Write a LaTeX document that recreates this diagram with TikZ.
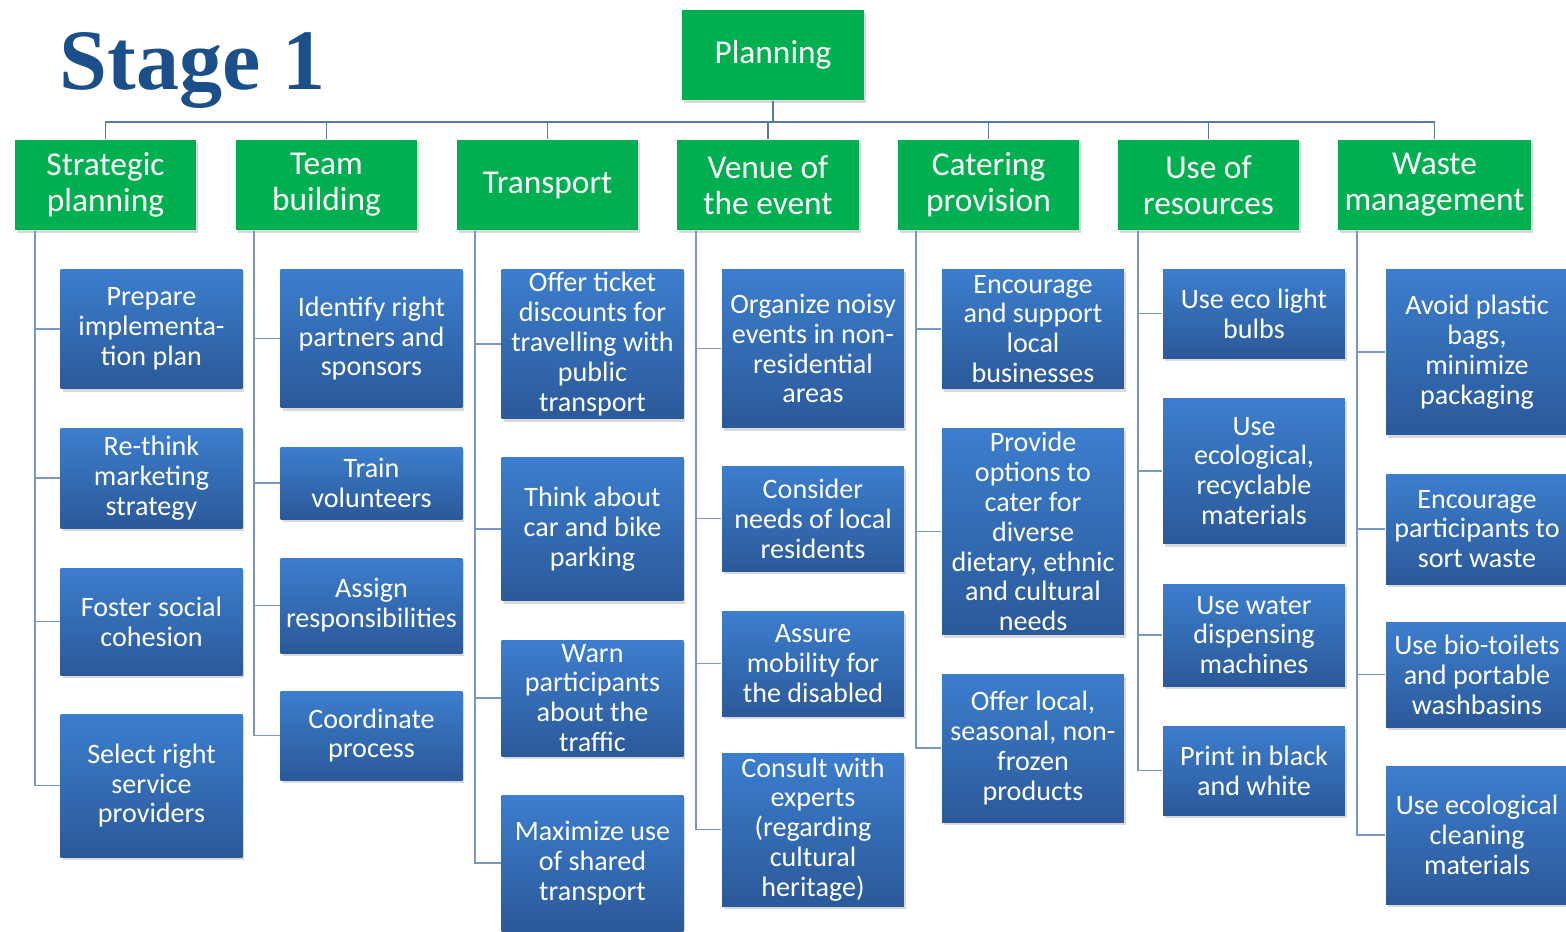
\documentclass[tikz,border=0pt]{standalone}
\usepackage{fontspec}
\setmainfont{Carlito}
\newfontfamily\titlefont{Liberation Serif}
\usetikzlibrary{shadows}
\definecolor{stagegreen}{RGB}{0,176,80}
\definecolor{boxtop}{RGB}{60,126,206}
\definecolor{boxbot}{RGB}{43,89,153}
\definecolor{linkblue}{RGB}{122,150,194}
\definecolor{busblue}{RGB}{90,120,168}
\definecolor{titleblue}{RGB}{27,79,138}

\begin{document}
\begin{tikzpicture}[x=0.02cm, y=-0.02cm, line width=1pt,
	head/.style={fill=stagegreen, text=white, align=center, minimum width=3.64cm, minimum height=1.8cm, inner sep=0pt,
		font=\fontsize{19}{20.5}\selectfont, drop shadow={opacity=0.3, shadow xshift=0.04cm, shadow yshift=-0.06cm}},
	leaf/.style={top color=boxtop, bottom color=boxbot, text=white, align=center, minimum width=3.64cm, inner sep=0pt,
		font=\fontsize{16}{17}\selectfont, drop shadow={opacity=0.3, shadow xshift=0.04cm, shadow yshift=-0.06cm}},
	link/.style={draw=linkblue},
	busline/.style={draw=busblue}]
		\useasboundingbox (0,0) rectangle (1566,931);
		\node[anchor=base west, text=titleblue, font=\titlefont\fontsize{49}{52}\selectfont\bfseries] (title) at (53,89) {Stage 1};
		% top level
		\node[head] (plan) at (773,55) {Planning};
		\node[head] (sp) at (105.5,185) {Strategic\\planning};
		\node[head] (tb) at (326.5,185) {Team\\building};
		\node[head] (tr) at (547.5,185) {Transport};
		\node[head] (ve) at (768,185) {Venue of\\the event};
		\node[head] (ca) at (988.5,185) {Catering\\provision};
		\node[head] (ur) at (1208.5,185) {Use of\\resources};
		\node[head, minimum width=3.86cm] (wm) at (1434.5,185) {Waste\\management};
		% strategic planning
		\node[leaf, minimum height=2.4cm] (s1) at (151.5,329) {Prepare\\implementa-\\tion plan};
		\node[leaf, minimum height=2cm] (s2) at (151.5,478) {Re-think\\marketing\\strategy};
		\node[leaf, minimum height=2.14cm] (s3) at (151.5,621.5) {Foster social\\cohesion};
		\node[leaf, minimum height=2.86cm] (s4) at (151.5,785.5) {Select right\\service\\providers};
		% team building
		\node[leaf, minimum height=2.78cm] (t1) at (371.5,338.5) {Identify right\\partners and\\sponsors};
		\node[leaf, minimum height=1.44cm] (t2) at (371.5,483) {Train\\volunteers};
		\node[leaf, minimum height=1.9cm] (t3) at (371.5,605.5) {Assign\\responsibilities};
		\node[leaf, minimum height=1.78cm] (t4) at (371.5,735.5) {Coordinate\\process};
		% transport
		\node[leaf, minimum height=3cm] (p1) at (592.5,344) {Offer ticket\\discounts for\\travelling with\\public\\transport};
		\node[leaf, minimum height=2.88cm] (p2) at (592.5,529) {Think about\\car and bike\\parking};
		\node[leaf, minimum height=2.32cm] (p3) at (592.5,698) {Warn\\participants\\about the\\traffic};
		\node[leaf, minimum height=2.72cm] (p4) at (592.5,863) {Maximize use\\of shared\\transport};
		% venue
		\node[leaf, minimum height=3.18cm] (v1) at (813,348.5) {Organize noisy\\events in non-\\residential\\areas};
		\node[leaf, minimum height=2.1cm] (v2) at (813,518.5) {Consider\\needs of local\\residents};
		\node[leaf, minimum height=2.1cm] (v3) at (813,663.5) {Assure\\mobility for\\the disabled};
		\node[leaf, minimum height=3.06cm] (v4) at (813,829.5) {Consult with\\experts\\(regarding\\cultural\\heritage)};
		% catering
		\node[leaf, minimum height=2.4cm] (c1) at (1033,329) {Encourage\\and support\\local\\businesses};
		\node[leaf, minimum height=4.14cm] (c2) at (1033,531.5) {Provide\\options to\\cater for\\diverse\\dietary, ethnic\\and cultural\\needs};
		\node[leaf, minimum height=2.96cm] (c3) at (1033,748) {Offer local,\\seasonal, non-\\frozen\\products};
		% resources
		\node[leaf, minimum height=1.78cm] (r1) at (1254,313.5) {Use eco light\\bulbs};
		\node[leaf, minimum height=2.92cm] (r2) at (1254,471) {Use\\ecological,\\recyclable\\materials};
		\node[leaf, minimum height=2.04cm] (r3) at (1254,635) {Use water\\dispensing\\machines};
		\node[leaf, minimum height=1.78cm] (r4) at (1254,770.5) {Print in black\\and white};
		% waste
		\node[leaf, minimum height=3.32cm] (w1) at (1477,352) {Avoid plastic\\bags,\\minimize\\packaging};
		\node[leaf, minimum height=2.2cm] (w2) at (1477,529) {Encourage\\participants to\\sort waste};
		\node[leaf, minimum height=2.1cm] (w3) at (1477,674.5) {Use bio-toilets\\and portable\\washbasins};
		\node[leaf, minimum height=2.76cm] (w4) at (1477,835) {Use ecological\\cleaning\\materials};
		% bus
		\coordinate (bus) at ([yshift=-0.42cm]plan.south);
		\draw[busline] (plan.south) -- (bus);
		\draw[busline] (sp.north) |- (bus);
		\draw[busline] (tb.north) |- (bus);
		\draw[busline] (tr.north) |- (bus);
		\draw[busline] (ve.north) |- (bus);
		\draw[busline] (ca.north) |- (bus);
		\draw[busline] (ur.north) |- (bus);
		\draw[busline] (wm.north) |- (bus);
		% branches
		\draw[link] ([xshift=0.42cm]sp.south west) |- (s1.west);
		\draw[link] ([xshift=0.42cm]sp.south west) |- (s2.west);
		\draw[link] ([xshift=0.42cm]sp.south west) |- (s3.west);
		\draw[link] ([xshift=0.42cm]sp.south west) |- (s4.west);
		\draw[link] ([xshift=0.38cm]tb.south west) |- (t1.west);
		\draw[link] ([xshift=0.38cm]tb.south west) |- (t2.west);
		\draw[link] ([xshift=0.38cm]tb.south west) |- (t3.west);
		\draw[link] ([xshift=0.38cm]tb.south west) |- (t4.west);
		\draw[link] ([xshift=0.38cm]tr.south west) |- (p1.west);
		\draw[link] ([xshift=0.38cm]tr.south west) |- (p2.west);
		\draw[link] ([xshift=0.38cm]tr.south west) |- (p3.west);
		\draw[link] ([xshift=0.38cm]tr.south west) |- (p4.west);
		\draw[link] ([xshift=0.4cm]ve.south west) |- (v1.west);
		\draw[link] ([xshift=0.4cm]ve.south west) |- (v2.west);
		\draw[link] ([xshift=0.4cm]ve.south west) |- (v3.west);
		\draw[link] ([xshift=0.4cm]ve.south west) |- (v4.west);
		\draw[link] ([xshift=0.38cm]ca.south west) |- (c1.west);
		\draw[link] ([xshift=0.38cm]ca.south west) |- (c2.west);
		\draw[link] ([xshift=0.38cm]ca.south west) |- (c3.west);
		\draw[link] ([xshift=0.42cm]ur.south west) |- (r1.west);
		\draw[link] ([xshift=0.42cm]ur.south west) |- (r2.west);
		\draw[link] ([xshift=0.42cm]ur.south west) |- (r3.west);
		\draw[link] ([xshift=0.42cm]ur.south west) |- (r4.west);
		\draw[link] ([xshift=0.4cm]wm.south west) |- (w1.west);
		\draw[link] ([xshift=0.4cm]wm.south west) |- (w2.west);
		\draw[link] ([xshift=0.4cm]wm.south west) |- (w3.west);
		\draw[link] ([xshift=0.4cm]wm.south west) |- (w4.west);
	\end{tikzpicture}
\end{document}
